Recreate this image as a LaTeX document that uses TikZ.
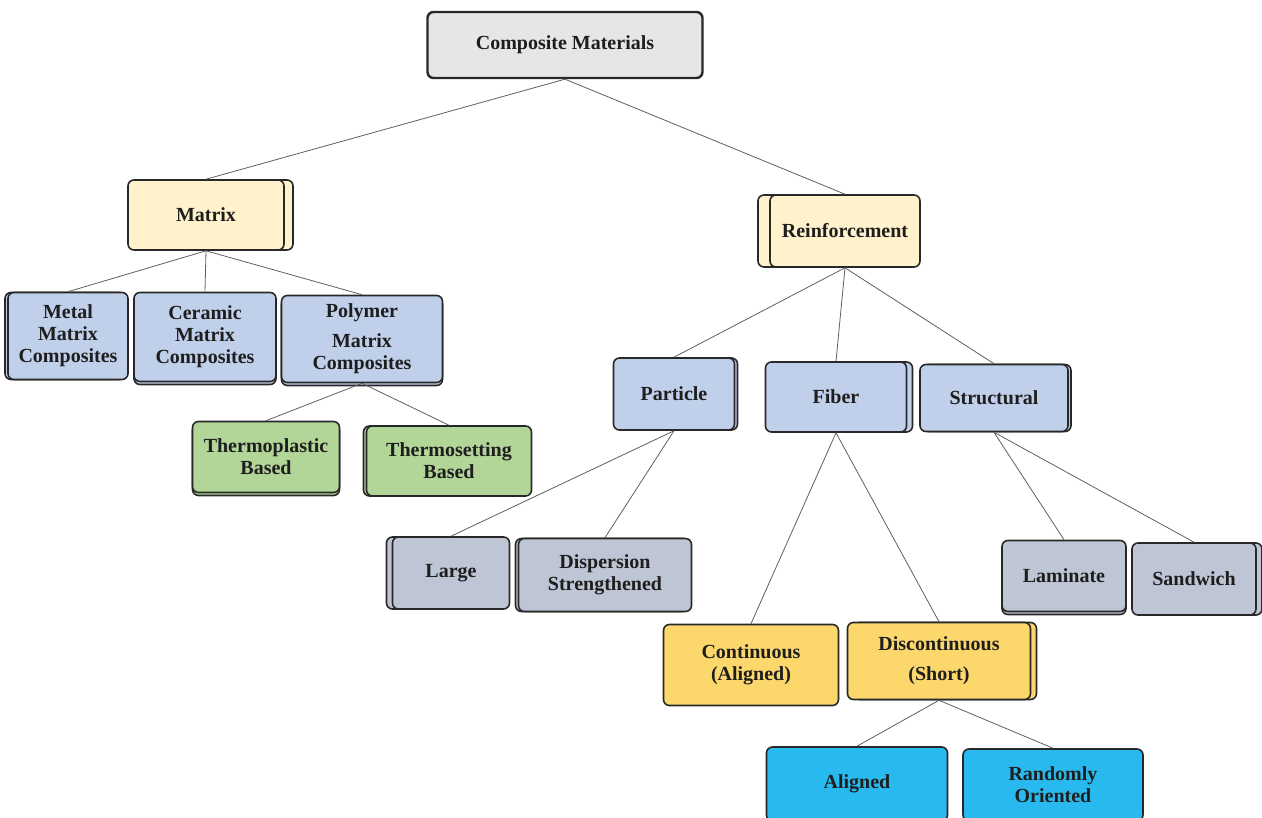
\documentclass[tikz,border=0pt]{standalone}
\usepackage{fontspec}
\setmainfont{Liberation Serif}
\usetikzlibrary{shadows}
\definecolor{topgray}{RGB}{230,230,230}
\definecolor{beige}{RGB}{255,242,204}
\definecolor{paleblue}{RGB}{192,207,234}
\definecolor{palegreen}{RGB}{178,213,152}
\definecolor{greyblue}{RGB}{190,198,214}
\definecolor{gold}{RGB}{252,216,108}
\definecolor{sky}{RGB}{40,186,238}
\definecolor{boxline}{RGB}{40,40,40}
\definecolor{linkgray}{RGB}{95,95,95}
\definecolor{txt}{RGB}{30,30,30}

\begin{document}
\begin{tikzpicture}[x=1pt, y=-1pt,
  box/.style={draw=boxline, line width=1.6pt, rounded corners=6pt,
    align=center, font=\bfseries\fontsize{20}{22}\selectfont, text=txt,
    inner sep=2pt},
  stack/.style={copy shadow={shadow xshift=#1, shadow yshift=0pt}},
  sink/.style={copy shadow={shadow xshift=0pt, shadow yshift=#1}},
  link/.style={draw=linkgray, line width=0.8pt}]
\useasboundingbox (0,0) rectangle (1262,818);
\clip (0,0) rectangle (1262,818);
% root
\node[box, fill=topgray, line width=2.4pt, minimum width=275pt, minimum height=66pt]
  (cm) at (565,45) {Composite Materials};
% second level
\node[box, fill=beige, stack=9pt, minimum width=156pt, minimum height=70pt]
  (mat) at (206,215) {Matrix};
\node[box, fill=beige, stack=-12pt, minimum width=150pt, minimum height=72pt]
  (rein) at (845,231) {Reinforcement};
% matrix types
\node[box, fill=paleblue, stack=-3pt, minimum width=120pt, minimum height=87pt]
  (mmc) at (68,336) {Metal\\Matrix\\Composites};
\node[box, fill=paleblue, sink=-3pt, minimum width=142pt, minimum height=89pt]
  (cmc) at (205,337) {Ceramic\\Matrix\\Composites};
\node[box, fill=paleblue, sink=-3pt, minimum width=161pt, minimum height=87pt]
  (pmc) at (362,339) {Polymer\\[8pt]Matrix\\Composites};
\node[box, fill=palegreen, sink=-3pt, minimum width=147pt, minimum height=71pt]
  (tpl) at (266,457) {Thermoplastic\\Based};
\node[box, fill=palegreen, stack=-3pt, minimum width=165pt, minimum height=70pt]
  (tst) at (449,461) {Thermosetting\\Based};
% reinforcement types
\node[box, fill=paleblue, stack=3pt, minimum width=121pt, minimum height=72pt]
  (part) at (674,394) {Particle};
\node[box, fill=paleblue, stack=6pt, minimum width=141pt, minimum height=70pt]
  (fib) at (836,397) {Fiber};
\node[box, fill=paleblue, stack=3pt, minimum width=148pt, minimum height=67pt]
  (str) at (994,398) {Structural};
% particle
\node[box, fill=greyblue, stack=-6pt, minimum width=117pt, minimum height=72pt]
  (lrg) at (451,573) {Large};
\node[box, fill=greyblue, stack=-3pt, minimum width=173pt, minimum height=73pt]
  (disp) at (605,575) {Dispersion\\Strengthened};
% structural
\node[box, fill=greyblue, sink=-3pt, minimum width=124pt, minimum height=71pt]
  (lam) at (1064,576) {Laminate};
\node[box, fill=greyblue, stack=6pt, minimum width=124pt, minimum height=72pt]
  (sand) at (1194,579) {Sandwich};
% fiber
\node[box, fill=gold, minimum width=175pt, minimum height=81pt]
  (cont) at (751,665) {Continuous\\(Aligned)};
\node[box, fill=gold, stack=6pt, minimum width=183pt, minimum height=77pt]
  (disc) at (939,661) {Discontinuous\\[8pt](Short)};
\node[box, fill=sky, minimum width=181pt, minimum height=74pt]
  (al) at (857,784) {Aligned};
\node[box, fill=sky, minimum width=180pt, minimum height=72pt]
  (rnd) at (1053,785) {Randomly\\Oriented};
% connectors
\draw[link] (cm.south) -- (mat.north);
\draw[link] (cm.south) -- (rein.north);
\draw[link] (mat.south) -- (mmc.north);
\draw[link] (mat.south) -- (cmc.north);
\draw[link] (mat.south) -- (pmc.north);
\draw[link] (pmc.south) -- (tpl.north);
\draw[link] (pmc.south) -- (tst.north);
\draw[link] (rein.south) -- (part.north);
\draw[link] (rein.south) -- (fib.north);
\draw[link] (rein.south) -- (str.north);
\draw[link] (part.south) -- (lrg.north);
\draw[link] (part.south) -- (disp.north);
\draw[link] (fib.south) -- (cont.north);
\draw[link] (fib.south) -- (disc.north);
\draw[link] (str.south) -- (lam.north);
\draw[link] (str.south) -- (sand.north);
\draw[link] (disc.south) -- (al.north);
\draw[link] (disc.south) -- (rnd.north);
\end{tikzpicture}
\end{document}
